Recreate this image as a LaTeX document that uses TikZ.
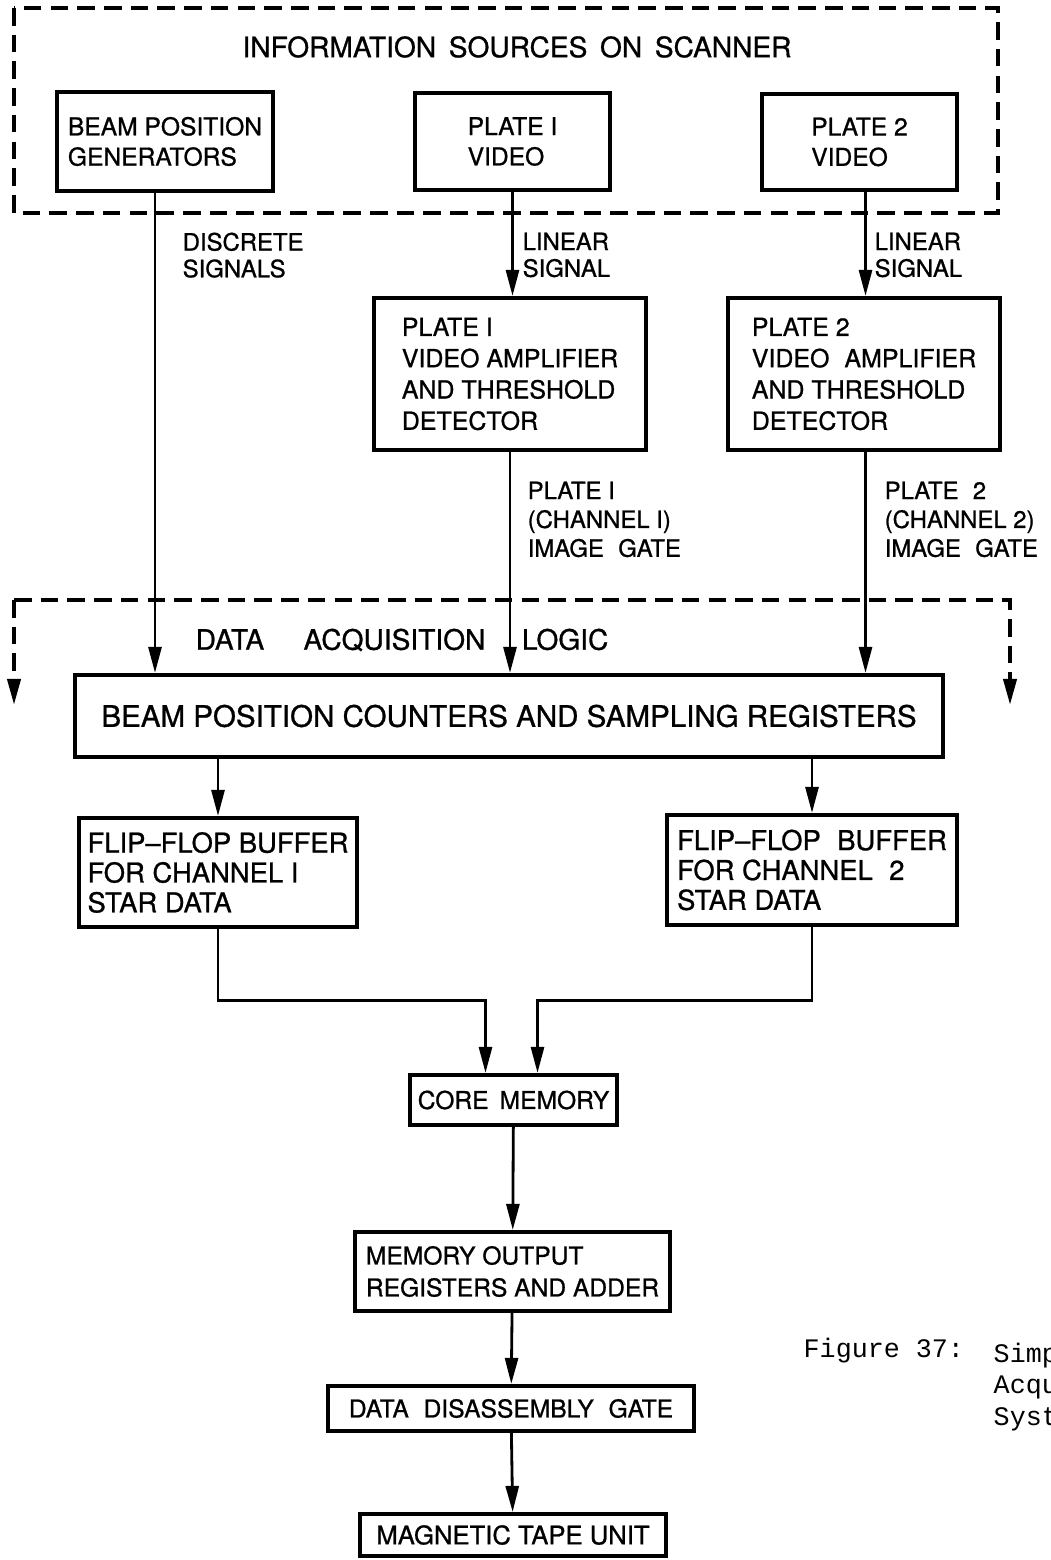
\documentclass[tikz,border=0pt]{standalone}
\usepackage{fontspec}
\setmainfont{TeX Gyre Heros}[FakeBold=0.9]
\newfontfamily\capfont{Liberation Mono}
\usetikzlibrary{arrows.meta}
\tikzset{
  blk/.style={draw, line width=1.2pt, align=left, inner sep=0pt, font=\fontsize{7}{8.6}\selectfont},
  lbl/.style={anchor=north west, inner sep=0pt, align=left, font=\fontsize{6.8}{7.6}\selectfont},
  arr/.style={-{Triangle[length=2.6mm,width=1.3mm]}, line width=0.8pt},
  dashln/.style={dash pattern=on 5pt off 2.6pt, line width=1.1pt}
}
\newcommand{\wsp}{\hspace{0.6em}}

\begin{document}
\begin{tikzpicture}[x=1cm,y=-1cm]
\useasboundingbox (0,0) rectangle (10.5,15.6);
% information sources on scanner
\draw[dashln] (0.14,0.08) rectangle (9.98,2.13);
\node[font=\fontsize{8}{9}\selectfont] (srctitle) at (5.17,0.47) {INFORMATION\hspace{0.45em}SOURCES\hspace{0.45em}ON\hspace{0.45em}SCANNER};
\node[blk, minimum width=2.16cm, minimum height=0.99cm] (bpg) at (1.65,1.415) {BEAM POSITION\\GENERATORS};
\node[blk, minimum width=1.95cm, minimum height=0.97cm] (pv1) at (5.125,1.415) {PLATE I\\VIDEO};
\node[blk, minimum width=1.95cm, minimum height=0.96cm] (pv2) at (8.595,1.42) {PLATE 2\\VIDEO};
% amplifiers
\node[blk, minimum width=2.72cm, minimum height=1.52cm, font=\fontsize{7.1}{8.9}\selectfont] (amp1) at (5.10,3.74) {PLATE I\\VIDEO AMPLIFIER\\AND THRESHOLD\\DETECTOR};
\node[blk, minimum width=2.72cm, minimum height=1.52cm, font=\fontsize{7.1}{8.9}\selectfont] (amp2) at (8.64,3.74) {PLATE 2\\VIDEO\wsp AMPLIFIER\\AND THRESHOLD\\DETECTOR};
% data acquisition logic
\draw[dashln, -{Triangle[length=2.6mm,width=1.3mm]}] (0.14,6.00) -- (0.14,7.05);
\draw[dashln, -{Triangle[length=2.6mm,width=1.3mm]}] (0.14,6.00) -- (10.10,6.00) -- (10.10,7.05);
\node[anchor=west, inner sep=0pt, font=\fontsize{8}{9}\selectfont] (dalogic) at (1.95,6.40) {DATA\hspace{1.4em}ACQUISITION\hspace{1.3em}LOGIC};
\node[blk, minimum width=8.68cm, minimum height=0.82cm, font=\fontsize{8.4}{10}\selectfont] (bpc) at (5.09,7.16) {BEAM POSITION COUNTERS AND SAMPLING REGISTERS};
\node[blk, minimum width=2.78cm, minimum height=1.09cm, font=\fontsize{7.8}{8.5}\selectfont] (ff1) at (2.18,8.725) {FLIP--FLOP BUFFER\\FOR CHANNEL I\\STAR DATA};
\node[blk, minimum width=2.90cm, minimum height=1.10cm, font=\fontsize{7.8}{8.5}\selectfont] (ff2) at (8.12,8.70) {FLIP--FLOP\wsp BUFFER\\FOR CHANNEL\wsp 2\\STAR DATA};
\node[blk, minimum width=2.07cm, minimum height=0.50cm] (cm) at (5.135,11.00) {CORE\hspace{0.45em}MEMORY};
\node[blk, minimum width=3.15cm, minimum height=0.79cm, font=\fontsize{7}{9.1}\selectfont] (mor) at (5.125,12.715) {MEMORY OUTPUT\\REGISTERS AND ADDER};
\node[blk, minimum width=3.66cm, minimum height=0.45cm] (ddg) at (5.11,14.085) {DATA\wsp DISASSEMBLY\wsp GATE};
\node[blk, minimum width=3.06cm, minimum height=0.42cm, font=\fontsize{7.3}{8.6}\selectfont] (mtu) at (5.13,15.35) {MAGNETIC TAPE UNIT};
% signal labels
\node[lbl] (lbdisc) at (1.82,2.32) {DISCRETE\\SIGNALS};
\node[lbl] (lblin1) at (5.22,2.32) {LINEAR\\SIGNAL};
\node[lbl] (lblin2) at (8.74,2.32) {LINEAR\\SIGNAL};
\node[lbl, font=\fontsize{6.8}{8.2}\selectfont] (lbgate1) at (5.27,4.81) {PLATE I\\(CHANNEL I)\\IMAGE\wsp GATE};
\node[lbl, font=\fontsize{6.8}{8.2}\selectfont] (lbgate2) at (8.84,4.81) {PLATE\wsp 2\\(CHANNEL 2)\\IMAGE\wsp GATE};
% connectors
\coordinate (ch2x) at (8.655,0);
\draw[arr] ([xshift=-1mm]bpg.south) -- ([xshift=-1mm]bpg.south |- bpc.north);
\draw[arr] (pv1.south) -- (pv1.south |- amp1.north);
\draw[arr] (pv2.south -| ch2x) -- (amp2.north -| ch2x);
\draw[arr] (amp1.south) -- (amp1.south |- bpc.north);
\draw[arr] (amp2.south -| ch2x) -- (bpc.north -| ch2x);
\draw[arr] (ff1.north |- bpc.south) -- (ff1.north);
\draw[arr] (ff2.north |- bpc.south) -- (ff2.north);
\draw[arr] (ff1.south) -- ++(0,0.71) -| ([xshift=-2.8mm]cm.north);
\draw[arr] (ff2.south) -- ++(0,0.73) -| ([xshift=2.4mm]cm.north);
\draw[arr] (cm) -- (mor);
\draw[arr] (mor) -- (ddg);
\draw[arr] (ddg) -- (mtu);
% caption
\node[anchor=west, inner sep=0pt, font=\capfont\fontsize{7.6}{9}\selectfont] (figno) at (8.03,13.51) {Figure 37:};
\node[anchor=north west, inner sep=0pt, align=left, font=\capfont\fontsize{7.6}{9}\selectfont] (figtitle) at (9.93,13.42) {Simp\\Acqu\\Syst};
\end{tikzpicture}
\end{document}
